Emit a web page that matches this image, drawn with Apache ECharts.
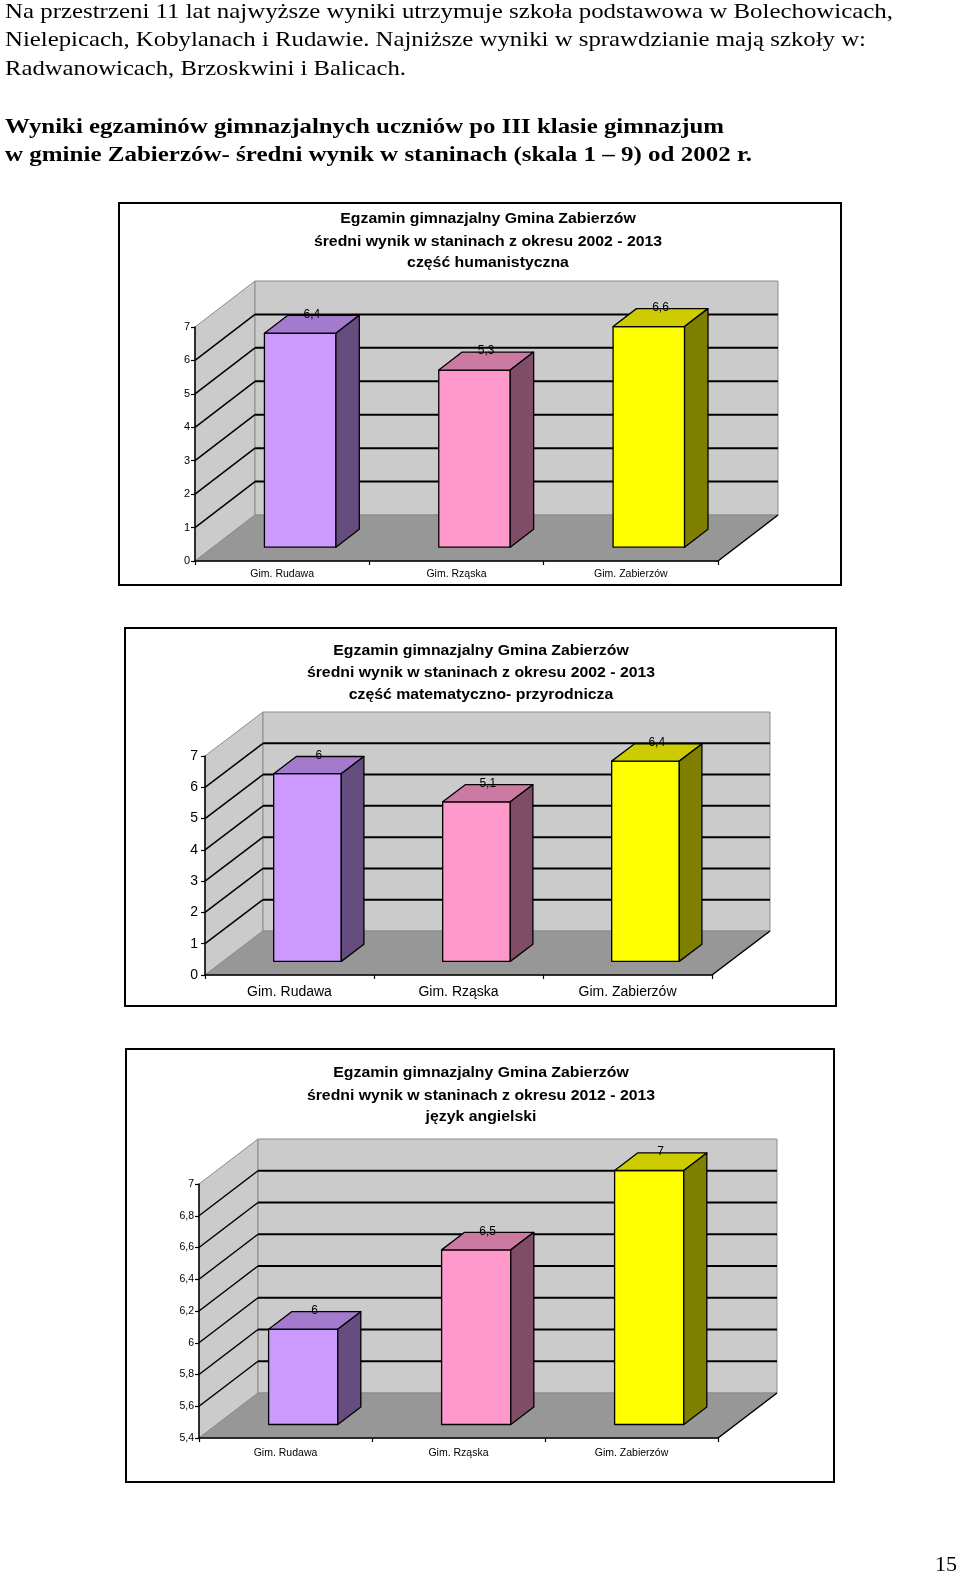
<!DOCTYPE html>
<html>
<head>
<meta charset="utf-8">
<script src="https://cdn.jsdelivr.net/npm/echarts@6/dist/echarts.min.js"></script>
<style>
  html, body { margin: 0; padding: 0; background: #fff; }
  #strona { width: 960px; height: 1577px; }
</style>
</head>
<body>
<div id="strona"></div>
<script>
// dane
var szkoly = ["Gim. Rudawa", "Gim. Rząska", "Gim. Zabierzów"];
var humanistyczna = [6.4, 5.3, 6.6];
var matematycznoPrzyrodnicza = [6, 5.1, 6.4];
var jezykAngielski = [6, 6.5, 7];
var osHum = { min: 0, max: 7, interval: 1 };
var osMat = { min: 0, max: 7, interval: 1 };
var osAng = { min: 5.4, max: 7, interval: 0.2 };

var tytulHum = ["Egzamin gimnazjalny Gmina Zabierzów", "średni wynik w staninach z okresu 2002 - 2013", "część humanistyczna"];
var tytulMat = ["Egzamin gimnazjalny Gmina Zabierzów", "średni wynik w staninach z okresu 2002 - 2013", "część matematyczno- przyrodnicza"];
var tytulAng = ["Egzamin gimnazjalny Gmina Zabierzów", "średni wynik w staninach z okresu 2012 - 2013", "język angielski"];

var akapit = [
  "Na przestrzeni 11 lat najwyższe wyniki utrzymuje szkoła podstawowa w Bolechowicach,",
  "Nielepicach, Kobylanach i Rudawie. Najniższe wyniki w sprawdzianie mają szkoły w:",
  "Radwanowicach, Brzoskwini i Balicach."
];
var naglowek = [
  "Wyniki egzaminów gimnazjalnych uczniów po III klasie gimnazjum",
  "w gminie Zabierzów- średni wynik w staninach (skala 1 – 9) od 2002 r."
];

// kolory slupkow: przod, gora, bok
var kolory = [
  { przod: "#cc99ff", gora: "#a37acc", bok: "#664d80" },
  { przod: "#ff99cc", gora: "#cc7aa3", bok: "#804d66" },
  { przod: "#ffff00", gora: "#cccc00", bok: "#808000" }
];

// uklad wykresow na stronie
var wykresy = [
  { dane: humanistyczna, os: osHum, tytul: tytulHum, ramka: [119, 203, 722, 382], tx: 488, ty: [219, 242, 263],
    x0: 195, x1: 718, y0: 561, yTop: 327, dx: 60, dy: -46, d0: 0.30, d1: 0.69, bw: 0.41,
    fontOs: 11, marginOs: 5, fontKat: 10.5, marginKat: 8 },
  { dane: matematycznoPrzyrodnicza, os: osMat, tytul: tytulMat, ramka: [125, 628, 711, 378], tx: 481, ty: [651, 673, 695],
    x0: 205, x1: 712, y0: 975, yTop: 756, dx: 58, dy: -44, d0: 0.31, d1: 0.70, bw: 0.40,
    fontOs: 14, marginOs: 7, fontKat: 14, marginKat: 10 },
  { dane: jezykAngielski, os: osAng, tytul: tytulAng, ramka: [126, 1049, 708, 433], tx: 481, ty: [1073, 1096, 1117],
    x0: 199, x1: 718, y0: 1438, yTop: 1184, dx: 59, dy: -45, d0: 0.30, d1: 0.69, bw: 0.40,
    fontOs: 10.5, marginOs: 5, fontKat: 10.5, marginKat: 10 }
];

function przecinek(v) {
  return String(Math.round(v * 10) / 10).replace(".", ",");
}

var miara = document.createElement("canvas").getContext("2d");
function skala(tekst, font, szer) {
  miara.font = font;
  return szer / miara.measureText(tekst).width;
}

var myChart = echarts.init(document.getElementById("strona"));

var grid = [], xAxis = [], yAxis = [], series = [], graphic = [];

wykresy.forEach(function (w, i) {
  grid.push({ left: w.x0, top: w.yTop, width: w.x1 - w.x0, height: w.y0 - w.yTop });
  xAxis.push({
    gridIndex: i,
    type: "category",
    data: szkoly,
    z: 10,
    axisLine: { show: true, lineStyle: { color: "#000", width: 1.5 } },
    axisTick: { show: true, length: 4, lineStyle: { color: "#000", width: 1.2 } },
    axisLabel: { color: "#000", fontSize: w.fontKat, fontFamily: "Liberation Sans", margin: w.marginKat },
    splitLine: { show: false }
  });
  yAxis.push({
    gridIndex: i,
    type: "value",
    min: w.os.min,
    max: w.os.max,
    interval: w.os.interval,
    z: 10,
    axisLine: { show: true, lineStyle: { color: "#000", width: 1.5 } },
    axisTick: { show: true, length: 4, lineStyle: { color: "#000", width: 1.2 } },
    axisLabel: { color: "#000", fontSize: w.fontOs, fontFamily: "Liberation Sans", margin: w.marginOs, formatter: przecinek },
    splitLine: { show: false }
  });

  // sciany i podloga
  series.push({
    type: "custom",
    xAxisIndex: i,
    yAxisIndex: i,
    silent: true,
    z: 1,
    data: [[0, w.os.min]],
    encode: { x: 0, y: 1 },
    renderItem: function (params, api) {
      var cs = params.coordSys;
      var x0 = cs.x, x1 = cs.x + cs.width;
      var yB = api.coord([0, w.os.min])[1];
      var yT = api.coord([0, w.os.max])[1];
      var dx = w.dx, dy = w.dy;
      var el = [];
      el.push({ type: "polygon", shape: { points: [[x0, yB], [x0, yT], [x0 + dx, yT + dy], [x0 + dx, yB + dy]] },
        style: { fill: "#cbcbcb", stroke: "#8c8c8c", lineWidth: 1 } });
      el.push({ type: "polygon", shape: { points: [[x0 + dx, yT + dy], [x1 + dx, yT + dy], [x1 + dx, yB + dy], [x0 + dx, yB + dy]] },
        style: { fill: "#cbcbcb", stroke: "#8c8c8c", lineWidth: 1 } });
      el.push({ type: "polygon", shape: { points: [[x0, yB], [x1, yB], [x1 + dx, yB + dy], [x0 + dx, yB + dy]] },
        style: { fill: "#979797", stroke: "#8c8c8c", lineWidth: 1 } });
      el.push({ type: "line", shape: { x1: x1, y1: yB, x2: x1 + dx, y2: yB + dy },
        style: { stroke: "#000", lineWidth: 1.5 } });
      for (var k = 1; w.os.min + k * w.os.interval < w.os.max - 1e-9; k++) {
        var y = api.coord([0, w.os.min + k * w.os.interval])[1];
        el.push({ type: "line", shape: { x1: x0, y1: y, x2: x0 + dx, y2: y + dy },
          style: { stroke: "#000", lineWidth: 1.5 } });
        el.push({ type: "line", shape: { x1: x0 + dx, y1: y + dy, x2: x1 + dx, y2: y + dy },
          style: { stroke: "#000", lineWidth: 2 } });
      }
      return { type: "group", children: el };
    }
  });

  // slupki 3D
  series.push({
    type: "custom",
    xAxisIndex: i,
    yAxisIndex: i,
    z: 3,
    data: w.dane.map(function (v, j) { return [j, v]; }),
    encode: { x: 0, y: 1 },
    renderItem: function (params, api) {
      var idx = api.value(0), v = api.value(1);
      var gora = api.coord([idx, v]);
      var dol = api.coord([idx, w.os.min]);
      var bw = api.size([1, 0])[0] * w.bw;
      var xl = gora[0] - bw / 2, xr = gora[0] + bw / 2, yt = gora[1], yb = dol[1];
      var P = function (x, y, d) { return [x + w.dx * d, y + w.dy * d]; };
      var c = kolory[idx];
      var obrys = { stroke: "#000", lineWidth: 1.3, lineJoin: "round" };
      var d0 = w.d0, d1 = w.d1;
      return {
        type: "group",
        children: [
          { type: "polygon", shape: { points: [P(xl, yt, d0), P(xr, yt, d0), P(xr, yb, d0), P(xl, yb, d0)] },
            style: Object.assign({ fill: c.przod }, obrys) },
          { type: "polygon", shape: { points: [P(xl, yt, d0), P(xr, yt, d0), P(xr, yt, d1), P(xl, yt, d1)] },
            style: Object.assign({ fill: c.gora }, obrys) },
          { type: "polygon", shape: { points: [P(xr, yt, d0), P(xr, yt, d1), P(xr, yb, d1), P(xr, yb, d0)] },
            style: Object.assign({ fill: c.bok }, obrys) },
          { type: "text", z2: 10,
            style: { text: przecinek(v), x: gora[0] + w.dx * (d0 + d1) / 2, y: yt + w.dy * d1 - 1,
              fill: "#000", font: '12px "Liberation Sans"', align: "center", verticalAlign: "middle",
              textAlign: "center", textVerticalAlign: "middle" } }
        ]
      };
    }
  });

  // ramka i tytul
  graphic.push({ type: "rect", z: 0, shape: { x: w.ramka[0], y: w.ramka[1], width: w.ramka[2], height: w.ramka[3] },
    style: { fill: "none", stroke: "#000", lineWidth: 2 } });
  w.tytul.forEach(function (t, k) {
    graphic.push({ type: "text", x: w.tx, y: w.ty[k], scaleX: 1.13,
      style: { text: t, x: 0, y: 0, fill: "#000", font: 'bold 14px "Liberation Sans"',
        align: "center", verticalAlign: "middle", textAlign: "center", textVerticalAlign: "middle" } });
  });
});

// tekst strony
var fontAkapit = '22px "Liberation Serif"';
var fontNaglowek = 'bold 22px "Liberation Serif"';
var szerAkapit = [888, 861, 401];
var yAkapit = [12, 40, 69];
akapit.forEach(function (t, k) {
  graphic.push({ type: "text", x: 5, y: yAkapit[k], scaleX: skala(t, fontAkapit, szerAkapit[k]),
    style: { text: t, x: 0, y: 0, fill: "#000", font: fontAkapit, align: "left", verticalAlign: "middle",
      textAlign: "left", textVerticalAlign: "middle" } });
});
var szerNaglowek = [719, 747];
var yNaglowek = [127, 155];
naglowek.forEach(function (t, k) {
  graphic.push({ type: "text", x: 5, y: yNaglowek[k], scaleX: skala(t, fontNaglowek, szerNaglowek[k]),
    style: { text: t, x: 0, y: 0, fill: "#000", font: fontNaglowek, align: "left", verticalAlign: "middle",
      textAlign: "left", textVerticalAlign: "middle" } });
});
graphic.push({ type: "text", x: 946, y: 1565,
  style: { text: "15", x: 0, y: 0, fill: "#000", font: '22px "Liberation Serif"', align: "center", verticalAlign: "middle",
    textAlign: "center", textVerticalAlign: "middle" } });

var option = {
  backgroundColor: "#fff",
  animation: false,
  grid: grid,
  xAxis: xAxis,
  yAxis: yAxis,
  series: series,
  graphic: graphic
};

myChart.setOption(option);
window.onresize = function () {
  myChart.resize();
};
</script>
</body>
</html>
